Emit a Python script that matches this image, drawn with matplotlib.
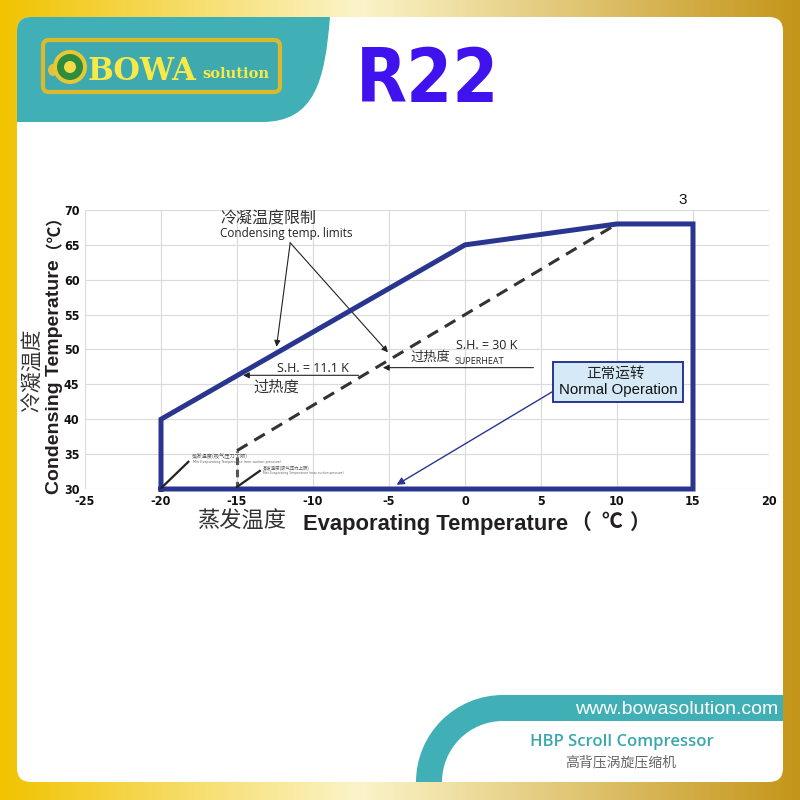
import numpy as np
import matplotlib
matplotlib.use('Agg')
import matplotlib.pyplot as plt
from matplotlib import font_manager as fm
from matplotlib.patches import FancyBboxPatch, Circle, Wedge, Rectangle, PathPatch, Ellipse
from matplotlib.path import Path
from matplotlib.colors import LinearSegmentedColormap

# envelope data (R22)
env_x = [-20, -20, 0, 10, 15, 15, -20]
env_y = [30, 40, 65, 68, 68, 30, 30]
sh30_x = [-15, 10]
sh30_y = [35.5, 68]
minevap_x = [-15, -15]
minevap_y = [30, 35.5]
x_ticks = [-25, -20, -15, -10, -5, 0, 5, 10, 15, 20]
y_ticks = [30, 35, 40, 45, 50, 55, 60, 65, 70]

plt.rcParams['axes.unicode_minus'] = False

CJK = 'Noto Sans CJK SC'
TEAL = '#41b0b6'
NAVY = '#2a3590'


def narrow_bold():
    # look for any condensed / narrow bold face that happens to be installed
    for f in fm.fontManager.ttflist:
        nm = (f.name + ' ' + f.fname).lower()
        cond = ('narrow' in nm or 'condensed' in nm
                or str(f.stretch) in ('condensed', 'semi-condensed', 'extra-condensed', 'ultra-condensed'))
        bold = 'bold' in nm or str(f.weight) in ('bold', '700', 'heavy', '800', '900')
        if cond and bold:
            return f.fname
    return None


NB = narrow_bold()


def nfont(size, weight='bold'):
    if NB:
        return fm.FontProperties(fname=NB, size=size)
    return fm.FontProperties(family='Roboto', weight=weight, size=size * 0.95)


fig = plt.figure(figsize=(8, 8), dpi=100)

# ---- background decoration in pixel coords
bg = fig.add_axes([0, 0, 1, 1])
bg.set_xlim(0, 800)
bg.set_ylim(800, 0)
bg.axis('off')

gold = LinearSegmentedColormap.from_list('gold', [(0, '#f1c300'), (0.45, '#fbf4c9'), (1, '#c4951a')])
grad = np.tile(np.linspace(0, 1, 256), (2, 1))
bg.imshow(grad, cmap=gold, extent=[0, 800, 800, 0], aspect='auto', zorder=0)

bg.add_patch(FancyBboxPatch((17, 17), 766, 765, boxstyle='round,pad=0,rounding_size=14',
                            facecolor='white', edgecolor='none', zorder=1))

verts = [(17, 122), (17, 31), (17, 17), (31, 17), (330, 17),
         (325, 80), (315, 122), (262, 122), (17, 122)]
codes = [Path.MOVETO, Path.LINETO, Path.CURVE3, Path.CURVE3, Path.LINETO,
         Path.CURVE4, Path.CURVE4, Path.CURVE4, Path.CLOSEPOLY]
bg.add_patch(PathPatch(Path(verts, codes), facecolor=TEAL, edgecolor='none', zorder=2))

# logo
bg.add_patch(FancyBboxPatch((43, 40), 237, 52, boxstyle='round,pad=0,rounding_size=6',
                            facecolor='#3eaab0', edgecolor='#dcb92c', lw=3, zorder=3))
bg.add_patch(Ellipse((53, 70), 10, 12, facecolor='#e2c040', edgecolor='none', zorder=3))
bg.add_patch(Circle((70, 67), 17, facecolor='#e8c832', edgecolor='none', zorder=4))
bg.add_patch(Circle((70, 67), 13, facecolor='#2d8c3e', edgecolor='none', zorder=4))
bg.add_patch(Circle((70, 67), 6, facecolor='#f2dd48', edgecolor='none', zorder=4))
bg.text(88, 80, 'BOWA', fontsize=22, fontweight='bold', family='DejaVu Serif',
        color='#f7ea48', va='baseline', ha='left', zorder=5)
bg.text(202, 78, 'solution', fontsize=10.5, fontweight='bold', family='DejaVu Serif',
        color='#f7ea48', va='baseline', ha='left', zorder=5)

bg.text(428, 102, 'R22', fontproperties=nfont(53, 'heavy'),
        color='#3f12ee', va='baseline', ha='center', zorder=5)

# bottom band
bg.add_patch(Wedge((503, 782), 87, 180, 270, width=26, facecolor=TEAL, edgecolor='none', zorder=2))
bg.add_patch(Rectangle((502, 695), 281, 26, facecolor=TEAL, edgecolor='none', zorder=2))
bg.text(778, 709, 'www.bowasolution.com', fontsize=14, family='Liberation Sans',
        color='white', ha='right', va='center', zorder=5)
bg.text(622, 742, 'HBP Scroll Compressor', fontsize=12, family='Open Sans', fontweight='semibold',
        color='#3aa7ad', ha='center', va='center', zorder=5)
bg.text(621, 762, '高背压涡旋压缩机', fontsize=10, family=CJK,
        color='#666666', ha='center', va='center', zorder=5)

# axis labels (figure pixel coords)
bg.text(242, 521, '蒸发温度', fontsize=16, family=CJK, fontweight='light',
        color='#333333', ha='center', va='center', zorder=5)
bg.text(303, 530, 'Evaporating Temperature', fontsize=15.8, family='Liberation Sans',
        fontweight='bold', color='#231f20', ha='left', va='baseline', zorder=5)
for gx, g in zip([581, 612, 640], ['（', '℃', '）']):
    bg.text(gx, 522, g, fontsize=15, family=CJK, fontweight='bold',
            color='#231f20', ha='center', va='center', zorder=5)
bg.text(33, 370, '冷凝温度', fontsize=15, family=CJK, fontweight='light', rotation=90,
        color='#333333', ha='center', va='center', zorder=5)
bg.text(55, 377, 'Condensing Temperature', fontsize=14, family='Liberation Sans',
        fontweight='bold', rotation=90, color='#231f20', ha='center', va='center', zorder=5)
bg.text(45, 223, '（℃）', fontsize=12, family=CJK, fontweight='bold', rotation=90,
        color='#231f20', ha='center', va='center', zorder=5)

# ---- main chart
ax = fig.add_axes([85 / 800, 1 - 489 / 800, 684 / 800, 279 / 800])
ax.patch.set_alpha(0)
ax.set_xlim(-25, 20)
ax.set_ylim(30, 70)
ax.set_xticks(x_ticks)
ax.set_yticks(y_ticks)
ax.grid(True, color='#dadada', lw=0.8)
ax.set_axisbelow(True)
for s in ax.spines.values():
    s.set_visible(False)
ax.tick_params(length=0, pad=4)
for lab in ax.get_xticklabels() + ax.get_yticklabels():
    lab.set_fontproperties(nfont(9))
    lab.set_color('#111111')

ax.plot(env_x, env_y, color=NAVY, lw=3.6, solid_joinstyle='miter', clip_on=False, zorder=4)
ax.plot(sh30_x, sh30_y, color='#333333', lw=2.2, dashes=(4, 2.6), clip_on=False, zorder=3)
ax.plot(minevap_x, minevap_y, color='#555555', lw=2.2, dashes=(2.5, 1.5), clip_on=False, zorder=3)

arr = dict(arrowstyle='-|>', color='#222222', lw=0.8, mutation_scale=9, shrinkA=0, shrinkB=0)

ax.text(-16.1, 68.7, '冷凝温度限制', fontsize=11.5, family=CJK, fontweight='light',
        color='#333333', ha='left', va='center')
ax.text(-16.1, 66.7, 'Condensing temp. limits', fontsize=8.5, family='Open Sans',
        color='#222222', ha='left', va='center')
ax.annotate('', xy=(-12.4, 50.4), xytext=(-11.5, 65.3), arrowprops=arr)
ax.annotate('', xy=(-5.07, 49.6), xytext=(-11.5, 65.3), arrowprops=arr)

ax.text(-10, 47.3, 'S.H. = 11.1 K', fontsize=9, family='Open Sans', color='#222222',
        ha='center', va='center')
ax.annotate('', xy=(-14.6, 46.3), xytext=(-7.0, 46.3), arrowprops=arr)
ax.text(-12.4, 44.6, '过热度', fontsize=11, family=CJK, fontweight='light',
        color='#333333', ha='center', va='center')

ax.text(1.4, 50.6, 'S.H. = 30 K', fontsize=9, family='Open Sans', color='#222222',
        ha='center', va='center')
ax.text(-2.3, 48.9, '过热度', fontsize=9.5, family=CJK, fontweight='light',
        color='#333333', ha='center', va='center')
ax.text(-0.7, 48.35, 'SUPERHEAT', fontsize=6.5, family='Open Sans', color='#222222',
        ha='left', va='center')
ax.annotate('', xy=(-5.4, 47.4), xytext=(4.5, 47.4), arrowprops=arr)

# normal operation box
ax.add_patch(Rectangle((5.79, 42.43), 14.34 - 5.79, 48.14 - 42.43, facecolor='#d5e9f6',
                       edgecolor=NAVY, lw=1.4, zorder=5, clip_on=False))
ax.text(9.9, 46.5, '正常运转', fontsize=10.5, family=CJK, fontweight='light',
        color='#222222', ha='center', va='center', zorder=6)
ax.text(10.1, 44.2, 'Normal Operation', fontsize=10.8, family='Liberation Sans',
        color='#111111', ha='center', va='center', zorder=6)
ax.annotate('', xy=(-4.5, 30.6), xytext=(5.79, 44.0),
            arrowprops=dict(arrowstyle='-|>', color=NAVY, lw=1.0, mutation_scale=11,
                            shrinkA=0, shrinkB=0), zorder=5)

# small notes near the evaporating limits
ax.plot([-20, -18.2], [30.1, 33.9], color='#222222', lw=1.6, zorder=5)
ax.plot([-15, -13.5], [30.3, 32.6], color='#222222', lw=1.6, zorder=5)
ax.text(-17.95, 34.7, '蒸发温度(吸气压力下限)', fontsize=3.8, family=CJK,
        color='#555555', ha='left', va='center')
ax.text(-17.9, 33.8, 'Min Evaporating Temperature (min suction pressure)', fontsize=2.4,
        color='#666666', ha='left', va='center')
ax.text(-13.3, 32.9, '蒸发温度(吸气压力上限)', fontsize=3.2, family=CJK,
        color='#555555', ha='left', va='center')
ax.text(-13.3, 32.3, 'Max Evaporating Temperature (max suction pressure)', fontsize=2.2,
        color='#666666', ha='left', va='center')

ax.text(14.3, 71.4, '3', fontsize=11, family='Liberation Sans', color='#111111',
        ha='center', va='center', clip_on=False)

fig.savefig('out.png', dpi=100)
